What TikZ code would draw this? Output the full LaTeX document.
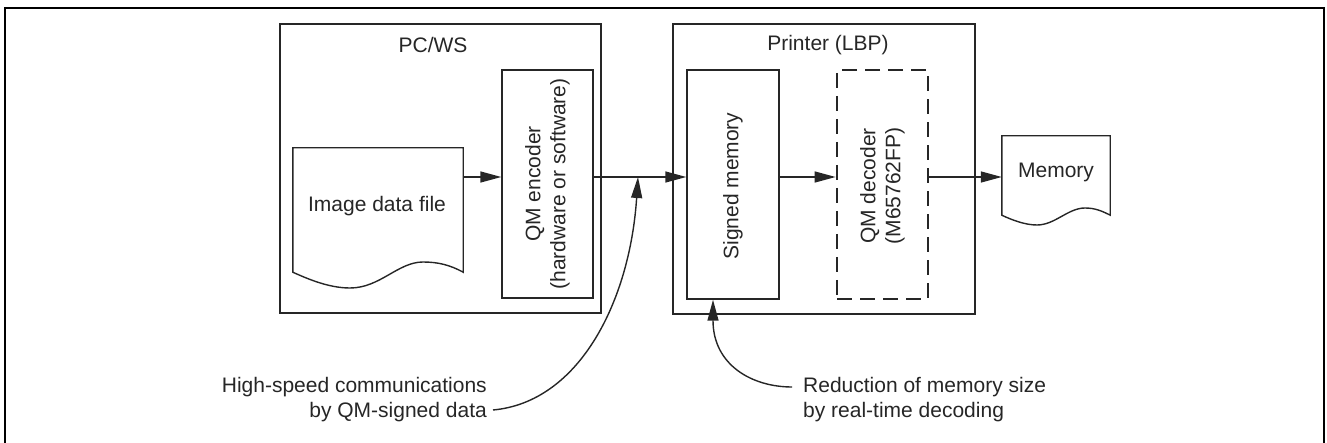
\documentclass[tikz,border=0pt]{standalone}
\usepackage{fontspec}
\setmainfont{Liberation Sans}
\usetikzlibrary{arrows.meta}
\definecolor{ink}{gray}{0.15}
\begin{document}
\begin{tikzpicture}[x=1pt,y=-1pt,
  line/.style={draw=ink, line width=1.4pt},
  box/.style={line, rectangle, inner sep=0pt},
  arr/.style={line, -{Triangle[length=21pt,width=11pt]}},
  txt/.style={font=\fontsize{21}{25}\selectfont, text=ink, inner sep=0pt, align=center},
  vtxt/.style={txt, rotate=90},
]
\useasboundingbox (0,0) rectangle (1327,443);
\draw[line width=2pt, draw=black] (5,450) -- (5,8) -- (1324,8) -- (1324,450);

% PC/WS
\node[box, minimum width=321pt, minimum height=289pt] (pc) at (440.5,168.5) {};
\node[txt] (pclab) at (433,45) {PC/WS};
\node[box, minimum width=91pt, minimum height=228pt] (enc) at (547.5,184) {};
\node[vtxt] (enctxt) at (enc.center) {QM encoder\\(hardware or software)};
\node[inner sep=0pt, minimum width=170pt, minimum height=124pt] (img) at (378,210) {};
\draw[line] (img.south west) -- (img.north west) -- (img.north east) -- (img.south east)
  .. controls (450,265) and (438,262) .. (423,262)
  .. controls (398,262) and (380,288) .. (350,288)
  .. controls (330,288) and (310,280) .. (img.south west) -- cycle;
\node[txt] (imgtxt) at (377,206) {Image data file};

% Printer
\node[box, minimum width=302pt, minimum height=290pt] (pr) at (824,169) {};
\node[txt] (prlab) at (828,45) {Printer (LBP)};
\node[box, minimum width=92pt, minimum height=229pt] (sm) at (733,184.5) {};
\node[vtxt] (smtxt) at (733,186) {Signed memory};
\node[box, line width=2.7pt, dash pattern=on 15pt off 8pt, minimum width=91pt, minimum height=229pt] (dec) at (882.5,184.5) {};
\node[vtxt] (dectxt) at (882.5,186) {QM decoder\\(M65762FP)};

% Memory document
\node[inner sep=0pt, minimum width=108pt, minimum height=79pt] (memd) at (1056,175.5) {};
\draw[line] (memd.south west) -- (memd.north west) -- (memd.north east) -- (memd.south east)
  .. controls (1102,211) and (1095,208) .. (1085,208)
  .. controls (1068,208) and (1055,225) .. (1037,225)
  .. controls (1025,225) and (1012,220) .. (memd.south west) -- cycle;
\node[txt] (memtxt) at (1056,172) {Memory};

% flow arrows
\coordinate (flow) at (0,177);
\draw[arr] (img.east |- flow) -- (enc.west |- flow);
\draw[arr] (enc.east |- flow) -- (sm.west |- flow);
\draw[arr] (sm.east |- flow) -- (dec.west |- flow);
\draw[arr] (dec.east |- flow) -- (memd.west |- flow);

% annotations
\node[txt, anchor=east, align=right] (lab1) at (487,400) {High-speed communications\\by QM-signed data};
\node[txt, anchor=west, align=left] (lab2) at (803,400) {Reduction of memory size\\by real-time decoding};
\coordinate (hit) at (638,177);
\draw[arr] ([xshift=6pt,yshift=-10pt]lab1.east) .. controls (580,402) and (630,300) .. (hit);
\draw[arr] ([xshift=-11pt,yshift=13pt]lab2.west) .. controls (752,387) and (713,365) .. ([xshift=-20pt]sm.south);
\end{tikzpicture}
\end{document}
